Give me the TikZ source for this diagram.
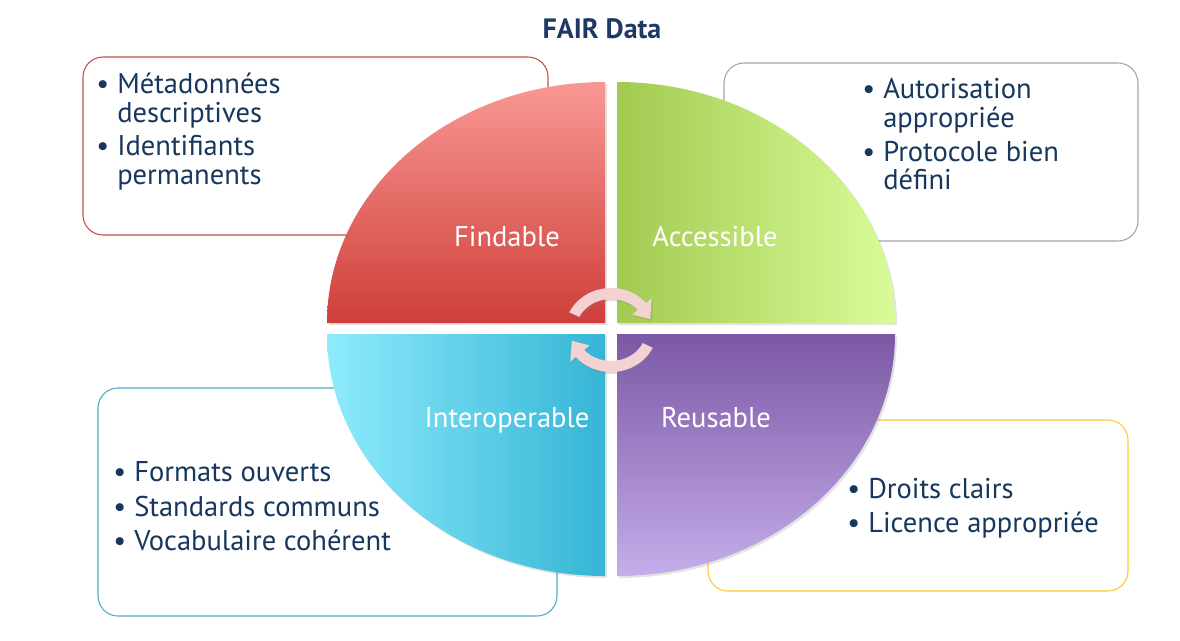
\documentclass[tikz,border=0pt]{standalone}
\usepackage{fontspec}
\setmainfont{PT Sans}
\usetikzlibrary{calc,shadows}

\definecolor{navy}{HTML}{17375E}
\definecolor{titleblue}{HTML}{1F3864}
\definecolor{redA}{HTML}{F99893}
\definecolor{redB}{HTML}{CF3E3A}
\definecolor{greenA}{HTML}{A2CA50}
\definecolor{greenB}{HTML}{D9FC99}
\definecolor{cyanA}{HTML}{8EEBFC}
\definecolor{cyanB}{HTML}{35B5D5}
\definecolor{purpleA}{HTML}{7B58A5}
\definecolor{purpleB}{HTML}{C5ADEA}
\definecolor{redline}{HTML}{C0504D}
\definecolor{grayline}{HTML}{A5A5A5}
\definecolor{tealline}{HTML}{4BACC6}
\definecolor{goldline}{HTML}{FFC830}
\definecolor{arrowpink}{HTML}{F4D2D2}

\newcommand{\bul}{\llap{\textbullet\hspace{6pt}}}

\tikzset{
  itemline/.style={anchor=base west, inner sep=0pt, text=navy,
    font=\fontsize{21.4}{25}\selectfont},
  quadlabel/.style={anchor=base, inner sep=0pt, text=white,
    font=\fontsize{21.4}{25}\selectfont},
  infobox/.style={draw, fill=white, rounded corners=15pt, line width=0.8pt},
  quadshadow/.style={drop shadow={opacity=0.22, shadow xshift=1.5pt, shadow yshift=-1.5pt}},
  arrowshape/.style={fill=arrowpink, drop shadow={opacity=0.25, shadow xshift=1pt, shadow yshift=-1.5pt}}
}

\begin{document}
\begin{tikzpicture}[x=0.75pt, y=0.75pt]
\useasboundingbox (0,0) rectangle (1180,-640);

% title
\node[anchor=base, inner sep=0pt, text=titleblue,
  font=\bfseries\fontsize{21}{25}\selectfont] (title) at (602,-38) {FAIR Data};

% text boxes behind the circle
\draw[infobox, draw=redline]  (83,-57)   rectangle (548,-235);
\draw[infobox, draw=grayline] (724,-63)  rectangle (1138,-241);
\draw[infobox, draw=tealline] (98,-388)  rectangle (557,-616);
\draw[infobox, draw=goldline] (708,-420) rectangle (1128,-591);

% four quadrants
\path[quadshadow, top color=redA, bottom color=redB]
  (605,-323) -- (327,-323) arc[start angle=180, end angle=90, x radius=278, y radius=241] -- cycle;
\path[quadshadow, left color=greenA, right color=greenB]
  (617,-323) -- (617,-82) arc[start angle=90, end angle=0, x radius=278, y radius=241] -- cycle;
\path[quadshadow, left color=cyanA, right color=cyanB]
  (605,-334) -- (327,-334) arc[start angle=180, end angle=270, x radius=278, y radius=242] -- cycle;
\path[quadshadow, top color=purpleA, bottom color=purpleB]
  (617,-334) -- (895,-334) arc[start angle=0, end angle=-90, x radius=278, y radius=242] -- cycle;

% quadrant labels
\node[quadlabel] (findable)   at (507,-246) {Findable};
\node[quadlabel] (accessible) at (715,-246) {Accessible};
\node[quadlabel] (interop)    at (507,-427) {Interoperable};
\node[quadlabel] (reusable)   at (716,-427) {Reusable};

% cycle arrows in the middle
\coordinate (C) at (611,-330);
\path[arrowshape]
  ($(C)+(155:46 and 42)$) arc[start angle=155, end angle=40, x radius=46, y radius=42]
  -- ($(C)+(40:53 and 49)$) -- ($(C)+(17:41 and 37)$) -- ($(C)+(40:28 and 24)$)
  -- ($(C)+(40:35 and 31)$) arc[start angle=40, end angle=155, x radius=35, y radius=31] -- cycle;
\path[arrowshape]
  ($(C)+(-25:46 and 42)$) arc[start angle=-25, end angle=-140, x radius=46, y radius=42]
  -- ($(C)+(-140:53 and 49)$) -- ($(C)+(-163:41 and 37)$) -- ($(C)+(-140:28 and 24)$)
  -- ($(C)+(-140:35 and 31)$) arc[start angle=-140, end angle=-25, x radius=35, y radius=31] -- cycle;

% Findable items
\node[itemline] (f1) at (117,-93)  {\bul Métadonnées};
\node[itemline] (f2) at (117,-122) {descriptives};
\node[itemline] (f3) at (117,-155) {\bul Identifiants};
\node[itemline] (f4) at (117,-184) {permanents};

% Accessible items
\node[itemline] (a1) at (883,-98)  {\bul Autorisation};
\node[itemline] (a2) at (883,-127) {appropriée};
\node[itemline] (a3) at (883,-161) {\bul Protocole bien};
\node[itemline] (a4) at (883,-189) {défini};

% Interoperable items
\node[itemline] (i1) at (134,-481) {\bul Formats ouverts};
\node[itemline] (i2) at (134,-516) {\bul Standards communs};
\node[itemline] (i3) at (134,-550) {\bul Vocabulaire cohérent};

% Reusable items
\node[itemline] (r1) at (868,-498) {\bul Droits clairs};
\node[itemline] (r2) at (868,-532) {\bul Licence appropriée};
\end{tikzpicture}
\end{document}
